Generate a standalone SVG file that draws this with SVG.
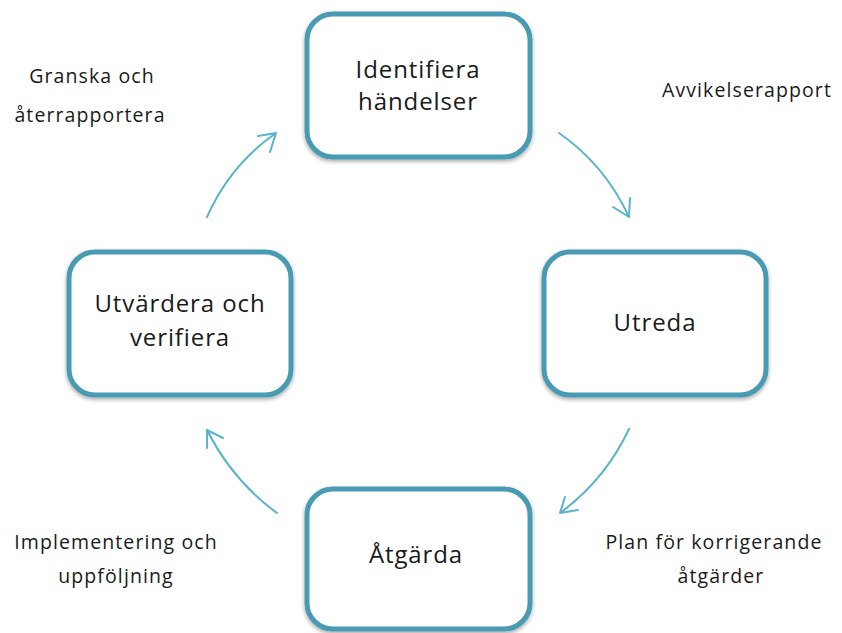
<svg xmlns="http://www.w3.org/2000/svg" width="842" height="633" viewBox="0 0 842 633">
<defs>
<filter id="sh" x="-10%" y="-10%" width="120%" height="125%">
<feGaussianBlur in="SourceAlpha" stdDeviation="2"/>
<feOffset dx="0" dy="2"/>
<feComponentTransfer><feFuncA type="linear" slope="0.35"/></feComponentTransfer>
<feMerge><feMergeNode/><feMergeNode in="SourceGraphic"/></feMerge>
</filter>
</defs>
<style>
.box{fill:#fff;stroke:#4a9bb4;stroke-width:5;filter:url(#sh)}
.bt{font-family:"Open Sans","Liberation Sans",sans-serif;font-size:24px;letter-spacing:0.9px;fill:#1a1a1a;text-anchor:middle}
.lt{font-family:"Open Sans","Liberation Sans",sans-serif;font-size:19.5px;letter-spacing:1.1px;fill:#1a1a1a;text-anchor:middle}
.ar{fill:none;stroke:#5bb3cc;stroke-width:2;stroke-linecap:round;stroke-linejoin:round}
</style>
<rect width="842" height="633" fill="#fff"/>
<g id="connectors">
<path class="ar" d="M559,133 Q605,165 629,217 M613,207 L629,217 L630,198"/>
<path class="ar" d="M629,429 Q605,480 560,513 M565,497 L560,513 L578,510"/>
<path class="ar" d="M277,513 Q232,480 207,430 M207,448 L207,430 L223,438"/>
<path class="ar" d="M207,217 Q230,165 276,133 M258,136 L276,133 L270,152"/>
</g>
<g id="n-identifiera">
<rect class="box" x="307" y="14" width="223" height="143" rx="26"/>
<text class="bt" x="418" y="78">Identifiera</text>
<text class="bt" x="418" y="110">händelser</text>
</g>
<g id="n-utreda">
<rect class="box" x="544" y="252" width="222" height="143" rx="26"/>
<text class="bt" x="655" y="331">Utreda</text>
</g>
<g id="n-atgarda">
<rect class="box" x="307" y="489" width="223" height="140" rx="26"/>
<text class="bt" x="416" y="563">Åtgärda</text>
</g>
<g id="n-utvardera">
<rect class="box" x="69" y="252" width="222" height="143" rx="26"/>
<text class="bt" x="180" y="312">Utvärdera och</text>
<text class="bt" x="180" y="346">verifiera</text>
</g>
<g id="labels">
<text class="lt" x="92" y="83">Granska och</text>
<text class="lt" x="90" y="122">återrapportera</text>
<text class="lt" x="747" y="97">Avvikelserapport</text>
<text class="lt" x="116" y="549">Implementering och</text>
<text class="lt" x="116" y="583">uppföljning</text>
<text class="lt" x="714" y="549">Plan för korrigerande</text>
<text class="lt" x="721" y="583">åtgärder</text>
</g>
</svg>
